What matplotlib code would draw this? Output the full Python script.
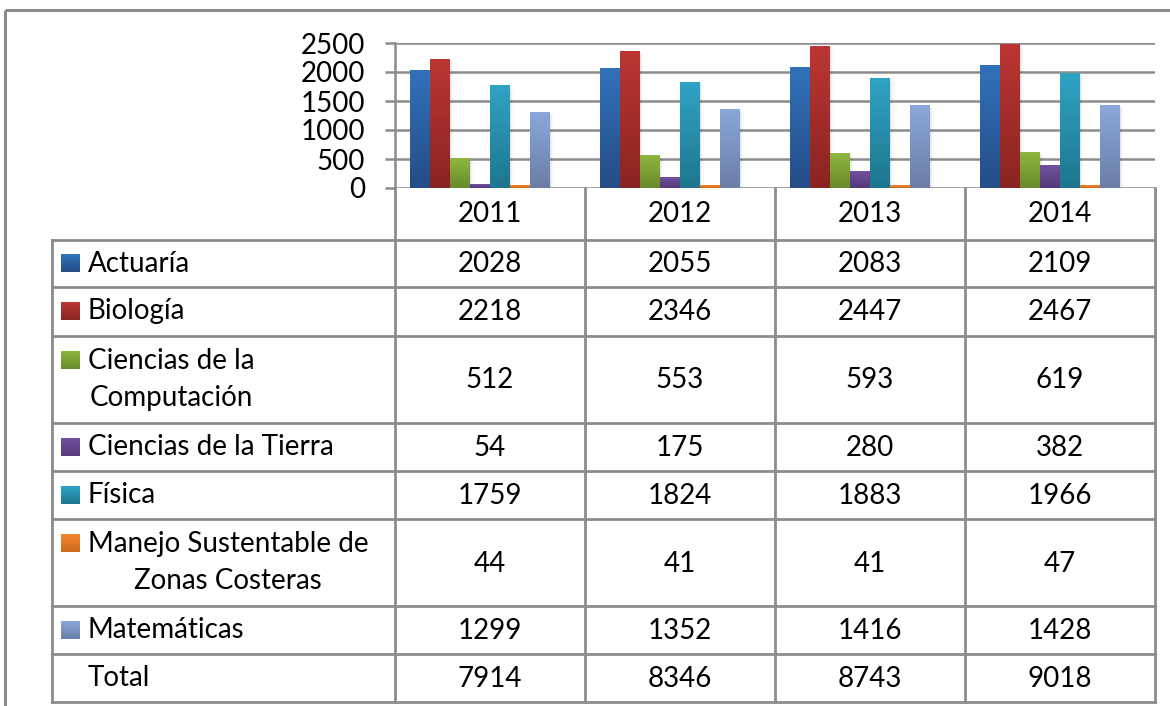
import numpy as np
import matplotlib
matplotlib.use('Agg')
import matplotlib.pyplot as plt
from matplotlib.colors import LinearSegmentedColormap

plt.rcParams['font.family'] = ['Lato', 'DejaVu Sans']

years = ['2011', '2012', '2013', '2014']
carreras = ['Actuaría', 'Biología', 'Ciencias de la\nComputación', 'Ciencias de la Tierra',
            'Física', 'Manejo Sustentable de\nZonas Costeras', 'Matemáticas']
actuaria = [2028, 2055, 2083, 2109]
biologia = [2218, 2346, 2447, 2467]
computacion = [512, 553, 593, 619]
tierra = [54, 175, 280, 382]
fisica = [1759, 1824, 1883, 1966]
costeras = [44, 41, 41, 47]
matematicas = [1299, 1352, 1416, 1428]
total = [7914, 8346, 8743, 9018]
y_ticks = [0, 500, 1000, 1500, 2000, 2500]

series = [actuaria, biologia, computacion, tierra, fisica, costeras, matematicas]
# (top, bottom) gradient colours
colores = [('#3171ba', '#254d87'), ('#bb3633', '#8a2422'), ('#8fb63f', '#678a2b'),
           ('#72519f', '#54397b'), ('#30a3c3', '#1e768f'), ('#f5862e', '#cc6a1c'),
           ('#8aa7da', '#6a7ea6')]

W, H = 1170, 706
GRID = '#8c8c8c'
FS = 20

fig = plt.figure(figsize=(W / 100, H / 100), dpi=100)
bg = fig.add_axes([0, 0, 1, 1])
bg.set_xlim(0, W)
bg.set_ylim(H, 0)
bg.axis('off')


def grad(axx, x0, x1, y_bot, y_top, c_top, c_bot, z=3):
    cmap = LinearSegmentedColormap.from_list('g', [c_bot, c_top])
    g = np.linspace(0, 1, 64).reshape(-1, 1)
    axx.imshow(g, extent=[x0, x1, y_bot, y_top], origin='lower', cmap=cmap,
               aspect='auto', zorder=z, interpolation='bilinear')


# outer frame
bg.plot([5, 5], [10, H], color=GRID, lw=2.2, solid_capstyle='butt')
bg.plot([5, W], [10, 10], color=GRID, lw=2.2, solid_capstyle='butt')

# chart area
ax = fig.add_axes([395 / W, 1 - 188 / H, 760 / W, 145 / H])
ax.set_xlim(0, len(years))
ax.set_ylim(0, 2500)
ax.set_yticks(y_ticks)
ax.set_xticks([])
ax.yaxis.grid(True, color=GRID, lw=1.8)
ax.set_axisbelow(True)
for s in ['top', 'right', 'bottom']:
    ax.spines[s].set_visible(False)
ax.spines['left'].set_color(GRID)
ax.spines['left'].set_linewidth(1.8)
ax.tick_params(axis='y', length=7.5, width=1.8, color=GRID, labelsize=FS, pad=14)
ax.patch.set_alpha(0)

bw = 20 / 190
off = 15 / 190
xs = np.arange(len(years))
for j, vals in enumerate(series):
    bars = ax.bar(xs + off + j * bw, vals, width=bw, align='edge', color='none', zorder=3)
    for r in bars:
        x0 = r.get_x()
        # soft shadow
        for k, a in enumerate([0.05, 0.035, 0.02]):
            d = bw * (0.06 + 0.06 * k)
            ax.bar(x0 + d, r.get_height() - 8 * (k + 1), bottom=-8 * (k + 1), width=bw,
                   align='edge', color='#000000', alpha=a, zorder=2, lw=0)
        grad(ax, x0, x0 + r.get_width(), 0, r.get_height(), colores[j][0], colores[j][1])
ax.set_xlim(0, len(years))
ax.set_ylim(0, 2500)

# data table
col_x = [395, 585, 775, 965, 1155]
row_y = [240, 287, 336, 423, 471, 519, 606, 654, 702]
lw = 2.0
for y in row_y:
    bg.plot([52, 1155], [y, y], color=GRID, lw=lw)
bg.plot([52, 52], [240, 702], color=GRID, lw=lw)
for x in col_x:
    bg.plot([x, x], [188, 702], color=GRID, lw=lw)

for i, yr in enumerate(years):
    bg.text((col_x[i] + col_x[i + 1]) / 2, 214, yr, ha='center', va='center', fontsize=FS)

filas = series + [total]
nombres = carreras + ['Total']
for k, (nom, vals) in enumerate(zip(nombres, filas)):
    yc = (row_y[k] + row_y[k + 1]) / 2
    for i, v in enumerate(vals):
        bg.text((col_x[i] + col_x[i + 1]) / 2, yc + 1, str(v), ha='center', va='center', fontsize=FS)
    bg.text(88, yc, nom, ha='left', va='center', multialignment='center',
            fontsize=FS, linespacing=1.55)
    if k < len(colores):
        y1 = yc if '\n' not in nom else yc - 19
        grad(bg, 61, 80, y1 + 9, y1 - 9, colores[k][0], colores[k][1])
bg.set_xlim(0, W)
bg.set_ylim(H, 0)

fig.savefig('out.png', dpi=100)
